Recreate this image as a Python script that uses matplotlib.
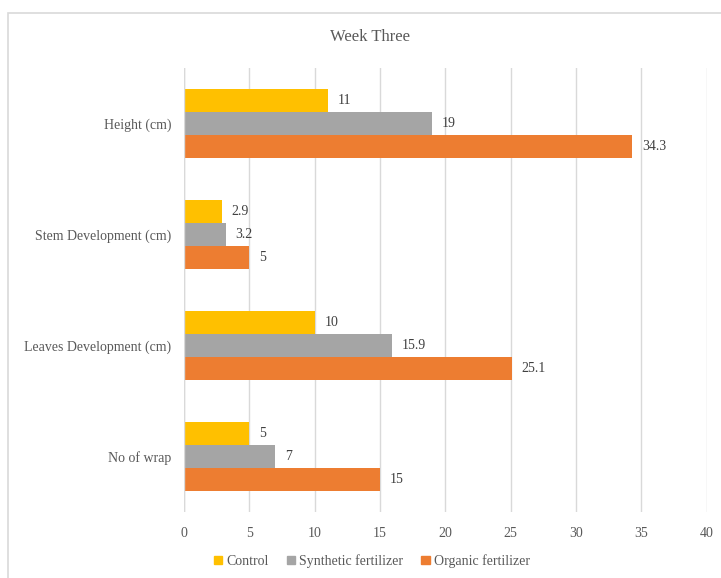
import numpy as np
import matplotlib.pyplot as plt
from matplotlib.patches import Rectangle, Patch

plt.rcParams['font.family'] = ['Liberation Serif', 'DejaVu Serif']

# datos
categorias = ['Height (cm)', 'Stem Development (cm)', 'Leaves Development (cm)', 'No of wrap']
control = [11, 2.9, 10, 5]
sintetico = [19, 3.2, 15.9, 7]
organico = [34.3, 5, 25.1, 15]
series = ['Control', 'Synthetic fertilizer', 'Organic fertilizer']
colores = ['#FFC000', '#A5A5A5', '#ED7D31']
texto = '#595959'

fig = plt.figure(figsize=(7.21, 5.78), dpi=100)
ax = fig.add_axes([184 / 721, 1 - 512 / 578, (706.7 - 184) / 721, (512 - 68) / 578])

# marco del grafico
fig.add_artist(Rectangle((8 / 721, -0.1), 1.2, 1 - 13 / 578 + 0.1, transform=fig.transFigure,
                         fill=False, edgecolor='#D9D9D9', linewidth=1.2))

y = np.arange(len(categorias))
h = 0.207
for i, (vals, nombre, col) in enumerate(zip([control, sintetico, organico], series, colores)):
    pos = y + (i - 1) * h
    ax.barh(pos, vals, height=h, color=col, label=nombre, zorder=2)
    for p, v in zip(pos, vals):
        ax.text(v + 0.75, p, f'{v:g}', va='center', ha='left', fontsize=10, color='#404040')

ax.set_ylim(len(categorias) - 0.5, -0.5)
ax.set_xlim(0, 40)
ax.set_xticks(np.arange(0, 41, 5))
ax.set_yticks(y)
ax.set_yticklabels(categorias)
ax.tick_params(axis='both', length=0, labelsize=10, labelcolor=texto)
ax.tick_params(axis='x', pad=11)
ax.tick_params(axis='y', pad=9)
ax.grid(axis='x', color='#D9D9D9', linewidth=1, zorder=0)
for s in ax.spines.values():
    s.set_visible(False)
ax.axvline(0, color='#D9D9D9', linewidth=1, zorder=3)

fig.text(370 / 721, 1 - 37 / 578, 'Week Three', ha='center', va='center', fontsize=12, color=texto)

handles = [Patch(color=c) for c in colores]
fig.legend(handles, series, loc='center', bbox_to_anchor=(372 / 721, 1 - 561 / 578), ncol=3,
           frameon=False, fontsize=10, handlelength=0.6, handleheight=0.6, handletextpad=0.3,
           columnspacing=1.3, labelcolor=texto)

plt.savefig('out.png', dpi=100)
